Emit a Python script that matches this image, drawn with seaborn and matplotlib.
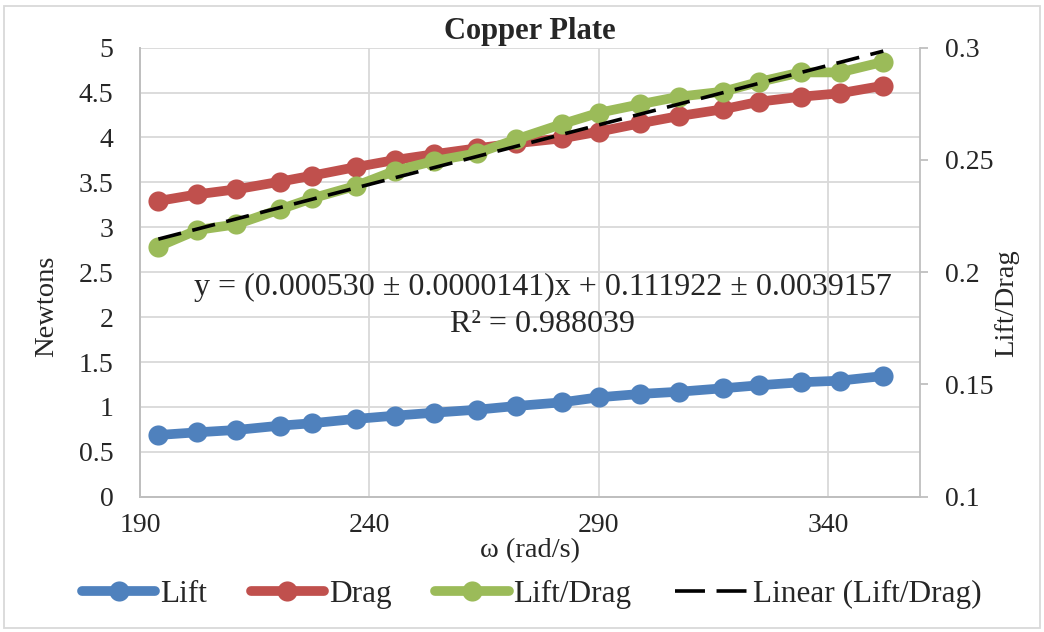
import matplotlib
matplotlib.use("Agg")

import matplotlib.pyplot as plt
import numpy as np
import pandas as pd
import seaborn as sns
from matplotlib.lines import Line2D
from matplotlib.patches import Rectangle

# ── Data ────────────────────────────────────────────────────
omega = [194.0, 202.5, 211.0, 220.5, 227.5, 237.0, 245.5, 254.0, 263.5, 272.0,
         282.0, 290.0, 299.0, 307.5, 317.0, 325.0, 334.0, 342.5, 352.0]
lift = [0.687, 0.717, 0.743, 0.791, 0.818, 0.866, 0.902, 0.935, 0.969, 1.010,
        1.051, 1.107, 1.144, 1.169, 1.207, 1.241, 1.274, 1.292, 1.344]
drag = [3.293, 3.367, 3.423, 3.508, 3.575, 3.670, 3.749, 3.813, 3.880, 3.936,
        3.991, 4.065, 4.158, 4.239, 4.314, 4.399, 4.454, 4.492, 4.577]
lift_drag = [0.2114, 0.2188, 0.2213, 0.2280, 0.2329, 0.2384, 0.2451, 0.2495, 0.2530, 0.2592,
             0.2660, 0.2710, 0.2748, 0.2782, 0.2804, 0.2848, 0.2890, 0.2890, 0.2937]

# trendline coefficients as printed on the chart
fit_slope = 0.000530
fit_intercept = 0.111922
fit_text = "y = (0.000530 ± 0.0000141)x + 0.111922 ± 0.0039157"
r2_text = "R² = 0.988039"

x_ticks = [190, 240, 290, 340]
left_ticks = [0, 0.5, 1, 1.5, 2, 2.5, 3, 3.5, 4, 4.5, 5]
right_ticks = [0.1, 0.15, 0.2, 0.25, 0.3]

df = pd.DataFrame({"omega": omega, "Lift": lift, "Drag": drag, "Lift/Drag": lift_drag})
df["Linear (Lift/Drag)"] = fit_intercept + fit_slope * df["omega"]

# ── Style ───────────────────────────────────────────────────
sns.set_style("white")
plt.rcParams["font.family"] = ["Liberation Serif", "DejaVu Serif"]

BLUE, RED, GREEN = "#4F81BD", "#C0504D", "#9BBB59"
GRID = "#D9D9D9"
AXIS = "#BFBFBF"
LW, MS = 7, 14.5
TICK_FS, LABEL_FS = 20, 20.5
TREND_LW = 2.6

fig = plt.figure(figsize=(10.44, 6.32), dpi=100)
ax = fig.add_axes([140 / 1044, 1 - 496.7 / 632, 780 / 1044, 449 / 632])
ax2 = ax.twinx()

sns.lineplot(data=df, x="omega", y="Lift", ax=ax, color=BLUE, lw=LW,
             marker="o", markersize=MS, markeredgewidth=0)
sns.lineplot(data=df, x="omega", y="Drag", ax=ax, color=RED, lw=LW,
             marker="o", markersize=MS, markeredgewidth=0)
sns.lineplot(data=df, x="omega", y="Lift/Drag", ax=ax2, color=GREEN, lw=LW,
             marker="o", markersize=MS, markeredgewidth=0)
sns.lineplot(data=df, x="omega", y="Linear (Lift/Drag)", ax=ax2, color="black",
             lw=TREND_LW, dashes=False, linestyle=(0, (6.5, 3.2)))

# ── Axes ────────────────────────────────────────────────────
ax.set_xlim(190, 360)
ax.set_ylim(0, 5)
ax2.set_ylim(0.1, 0.3)
ax.set_xticks(x_ticks)
ax.set_yticks(left_ticks)
ax.set_yticklabels([f"{t:g}" for t in left_ticks])
ax2.set_yticks(right_ticks)
ax2.set_yticklabels([f"{t:g}" for t in right_ticks])

ax.grid(True, color=GRID, lw=1.3)
ax2.grid(False)
ax.set_axisbelow(True)

for a in (ax, ax2):
    for sp in a.spines.values():
        sp.set_color(AXIS)
        sp.set_linewidth(1.3)
    a.spines["top"].set_visible(False)
ax.spines["right"].set_visible(False)

ax.tick_params(axis="x", length=0, pad=12, labelsize=TICK_FS)
ax.tick_params(axis="y", length=0, pad=19, labelsize=TICK_FS)
ax2.tick_params(axis="y", length=6, width=1.3, color=AXIS, pad=12, labelsize=TICK_FS)

ax.set_title("Copper Plate", fontsize=22, fontweight="bold", pad=6)

ax.set_xlabel("ω (rad/s)", fontsize=LABEL_FS, va="center")
ax.xaxis.set_label_coords(0.5, (496.7 - 551) / 449)
ax.set_ylabel("Newtons", fontsize=LABEL_FS, va="center")
ax.yaxis.set_label_coords((47 - 140) / 780, (496.7 - 306) / 449)
ax2.set_ylabel("Lift/Drag", fontsize=LABEL_FS, va="center")
ax2.yaxis.set_label_coords((1007 - 140) / 780, (496.7 - 303) / 449)

ax.text((543 - 140) / 780, (496.7 - 287) / 449, fit_text, transform=ax.transAxes,
        ha="center", va="center", fontsize=23)
ax.text((543 - 140) / 780, (496.7 - 324) / 449, r2_text, transform=ax.transAxes,
        ha="center", va="center", fontsize=23)

# ── Legend ──────────────────────────────────────────────────
handles = [
    Line2D([], [], color=BLUE, lw=LW, marker="o", markersize=MS, markeredgewidth=0),
    Line2D([], [], color=RED, lw=LW, marker="o", markersize=MS, markeredgewidth=0),
    Line2D([], [], color=GREEN, lw=LW, marker="o", markersize=MS, markeredgewidth=0),
    Line2D([], [], color="black", lw=TREND_LW, linestyle=(0, (8.3, 3.2))),
]
labels = ["Lift", "Drag", "Lift/Drag", "Linear (Lift/Drag)"]
for a in (ax, ax2):
    if a.get_legend() is not None:
        a.get_legend().remove()
fig.legend(handles, labels, loc="center", bbox_to_anchor=(532 / 1044, 1 - 594 / 632),
           ncol=4, frameon=False, fontsize=22.5, handlelength=2.35,
           handletextpad=0.15, columnspacing=1.4, borderaxespad=0)

fig.patches.append(Rectangle((4 / 1044, 4 / 632), 1036 / 1044, 622 / 632,
                             transform=fig.transFigure, fill=False,
                             edgecolor=GRID, lw=1.3))

fig.savefig("out.png", dpi=100)
plt.close(fig)
